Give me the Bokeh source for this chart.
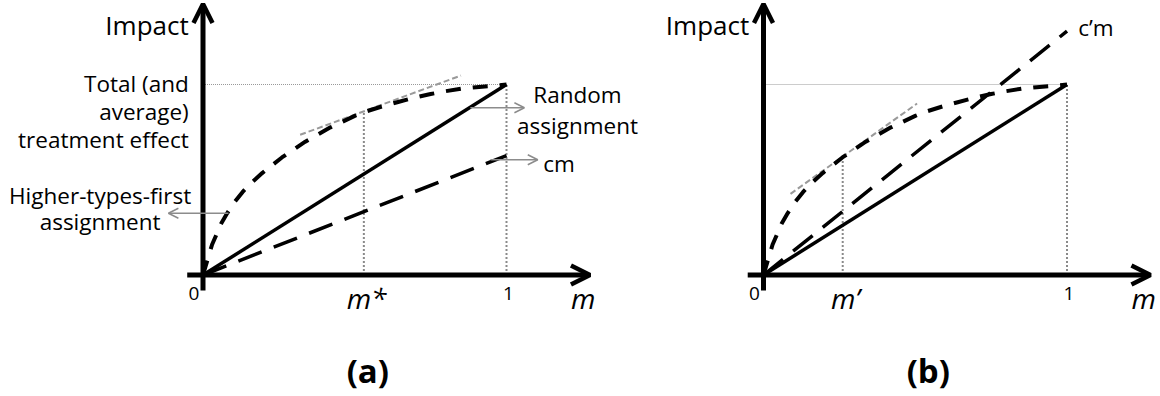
from bokeh.plotting import figure
from bokeh.layouts import row
from bokeh.models import Range1d, Arrow, OpenHead
from bokeh.core.properties import value
from bokeh.embed import file_html
from bokeh.resources import INLINE

# ---------------- data (m = share assigned, impact relative to total effect) ----------------
htf_m = [0, 0.03, 0.06, 0.08, 0.105, 0.13, 0.16, 0.195, 0.26, 0.337, 0.42, 0.50, 0.53,
         0.59, 0.64, 0.70, 0.75, 0.80, 0.85, 0.90, 0.95, 1.0]
htf_impact = [0, 0.16, 0.27, 0.325, 0.385, 0.435, 0.485, 0.535, 0.617, 0.70, 0.775, 0.835,
              0.855, 0.885, 0.907, 0.932, 0.950, 0.965, 0.978, 0.986, 0.992, 1.0]

random_m = [0, 1]
random_impact = [0, 1]

cm_m = [0, 1]
cm_impact = [0, 0.627]

cpm_m = [0, 1]
cpm_impact = [0, 1.28]

tangent_a_m = [0.32, 0.85]
tangent_a_impact = [0.736, 1.047]
tangent_b_m = [0.089, 0.506]
tangent_b_impact = [0.426, 0.90]

m_star = 0.53
m_star_impact = 0.855
m_prime = 0.261
m_prime_impact = 0.617
total_effect = 1.0

panel_labels = ["(a)", "(b)"]
tick_labels_a = ["0", "m*", "1"]
tick_labels_b = ["0", "m\u2019", "1"]

# ---------------- layout helpers ----------------
H = 396
PX_M = 303.5
PX_I = 190.5
ORIGIN_Y = 274.5  # px from figure top
FONT = value("Open Sans")


def make_fig(width, origin_x):
    p = figure(width=width, height=H,
               x_range=Range1d(-origin_x / PX_M, (width - origin_x) / PX_M),
               y_range=Range1d(-(H - ORIGIN_Y) / PX_I, ORIGIN_Y / PX_I),
               output_backend="svg", toolbar_location=None,
               x_axis_location=None, y_axis_location=None, min_border=0)
    p.min_border_left = p.min_border_right = p.min_border_top = p.min_border_bottom = 0
    p.outline_line_color = None
    p.grid.visible = False
    p.background_fill_color = "white"
    p.border_fill_color = "white"
    return p


def txt(p, x, y, s, size, align="left", style="normal", color="black"):
    # y is the baseline; shift up so the glyph baseline lands there
    p.text(x=[x], y=[y], text=[s], text_font=FONT, text_font_size=f"{size}px",
           text_align=align, text_baseline="alphabetic", text_font_style=style,
           text_color=color, y_offset=-0.39 * size)


def gray_arrow(p, x0, x1, y):
    p.add_layout(Arrow(end=OpenHead(size=10, line_width=1.5, line_color="#8c8c8c"),
                       x_start=x0, y_start=y, x_end=x1, y_end=y,
                       line_width=1.5, line_color="#8c8c8c"))


def common(p, mark_m, mark_impact, ticks, label, tangent_m, tangent_impact):
    # reference dotted lines
    p.line([0, 1], [total_effect, total_effect], line_color="#999999", line_width=1.2,
           line_dash="1 1")
    p.line([1, 1], [0, total_effect], line_color="#8a8a8a", line_width=2, line_dash="2 2")
    p.line([mark_m, mark_m], [0, mark_impact], line_color="#8a8a8a", line_width=2,
           line_dash="2 2")
    # tangent
    p.line(tangent_m, tangent_impact, line_color="#9a9a9a", line_width=2, line_dash="6 3")
    # random assignment
    p.line(random_m, random_impact, line_color="black", line_width=3.5)
    # higher-types-first
    p.line(htf_m, htf_impact, line_color="black", line_width=4, line_dash="15 12")
    # axes
    p.add_layout(Arrow(end=OpenHead(size=19, line_width=4.5, line_color="black"),
                       x_start=-0.052, y_start=0, x_end=1.275, y_end=0,
                       line_width=5, line_color="black"))
    p.add_layout(Arrow(end=OpenHead(size=19, line_width=4.5, line_color="black"),
                       x_start=0, y_start=-0.081, x_end=0, y_end=1.4226,
                       line_width=5, line_color="black"))
    txt(p, -0.047, 1.257, "Impact", 26, align="right")
    txt(p, -0.030, -0.134, ticks[0], 19, align="center")
    txt(p, mark_m + 0.009, -0.176, ticks[1], 28, align="center", style="italic")
    txt(p, 1.006, -0.138, ticks[2], 19, align="center")
    txt(p, 1.253, -0.176, "m", 28, align="center", style="italic")
    txt(p, 0.543, -0.567, label, 33, align="center", style="bold")


# ---------------- panel (a) ----------------
pa = make_fig(650, 202.5)
common(pa, m_star, m_star_impact, tick_labels_a, panel_labels[0], tangent_a_m, tangent_a_impact)
pa.line(cm_m, cm_impact, line_color="black", line_width=3.5, line_dash="25 13")
gray_arrow(pa, 0.881, 1.059, 0.878)
gray_arrow(pa, 0.947, 1.103, 0.605)
gray_arrow(pa, 0.084, -0.114, 0.324)
txt(pa, -0.047, 0.960, "Total (and", 22.5, align="right")
txt(pa, -0.047, 0.811, "average)", 22.5, align="right")
txt(pa, -0.047, 0.666, "treatment effect", 22.5, align="right")
txt(pa, -0.339, 0.370, "Higher-types-first", 22.5, align="center")
txt(pa, -0.339, 0.234, "assignment", 22.5, align="center")
txt(pa, 1.234, 0.899, "Random", 22.5, align="center")
txt(pa, 1.234, 0.741, "assignment", 22.5, align="center")
txt(pa, 1.121, 0.538, "cm", 22.5, align="left")

# ---------------- panel (b) ----------------
pb = make_fig(510, 113)
common(pb, m_prime, m_prime_impact, tick_labels_b, panel_labels[1], tangent_b_m, tangent_b_impact)
pb.line(cpm_m, cpm_impact, line_color="black", line_width=3.5, line_dash="25 13")
txt(pb, 1.037, 1.252, "c\u2019m", 22.5, align="left")

layout = row(pa, pb, spacing=0)
open("out.html", "w").write(file_html(layout, INLINE))
